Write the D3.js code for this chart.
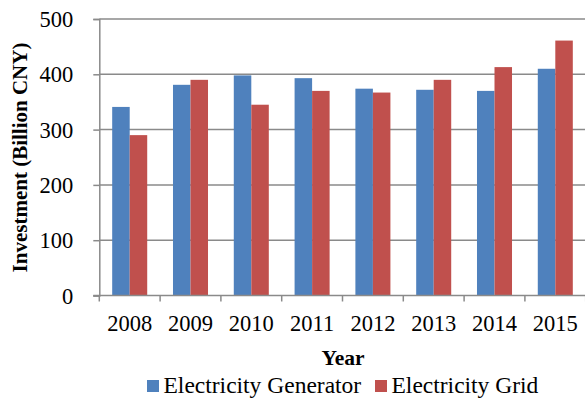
<!DOCTYPE html>
<html>
<head>
<meta charset="utf-8">
<script src="https://cdn.jsdelivr.net/npm/d3@7"></script>
<style>
  html, body { margin: 0; padding: 0; background: #fff; }
  svg { display: block; }
  svg text { font-family: "Liberation Serif", "Times New Roman", serif; fill: #000; }
</style>
</head>
<body>
<svg id="chart" width="585" height="399"></svg>
<script>
// Annual investment in China's power sector, billion CNY
const years = ["2008", "2009", "2010", "2011", "2012", "2013", "2014", "2015"];
const seriesNames = ["Electricity Generator", "Electricity Grid"];
const generator = [341, 381, 398, 393, 374, 372, 370, 410];
const grid = [290, 390, 345, 370, 367, 390, 413, 461];
const yTicks = [0, 100, 200, 300, 400, 500];
const colors = ["#4F81BD", "#C0504D"];

const svg = d3.select("#chart");
const plotLeft = 99.3, plotRight = 585.7, plotTop = 19, plotBottom = 295.5;

const pad = 0.424;
const x = d3.scaleBand().domain(years).range([plotLeft, plotRight])
  .paddingInner(pad).paddingOuter(pad / 2);
const x1 = d3.scaleBand().domain(seriesNames).range([0, x.bandwidth()]);
const y = d3.scaleLinear().domain([0, 500]).range([plotBottom, plotTop]);

const gridColor = "#8a8a8a";

// horizontal gridlines
svg.append("g").selectAll("line").data(yTicks.filter(d => d > 0)).join("line")
  .attr("x1", plotLeft).attr("x2", plotRight)
  .attr("y1", d => y(d)).attr("y2", d => y(d))
  .attr("stroke", gridColor).attr("stroke-width", 1.5);

// bars
const rows = years.map((yr, i) => ({ year: yr, values: [generator[i], grid[i]] }));
const groups = svg.append("g").selectAll("g").data(rows).join("g")
  .attr("transform", d => `translate(${x(d.year)},0)`);
groups.selectAll("rect")
  .data(d => d.values.map((v, j) => ({ name: seriesNames[j], value: v, j })))
  .join("rect")
  .attr("x", d => x1(d.name))
  .attr("width", x1.bandwidth())
  .attr("y", d => y(d.value))
  .attr("height", d => y(0) - y(d.value))
  .attr("fill", d => colors[d.j]);

// y axis
const yAxis = d3.axisLeft(y).tickValues(yTicks).tickSize(6).tickPadding(20);
const gy = svg.append("g").attr("transform", `translate(${plotLeft},0)`).call(yAxis);
gy.attr("font-family", null);
gy.select(".domain").attr("stroke", gridColor).attr("stroke-width", 1.5);
gy.selectAll(".tick line").attr("stroke", gridColor).attr("stroke-width", 1.5);
gy.selectAll(".tick text").attr("font-size", 22.5).attr("dy", "0.34em");

// x axis: baseline, boundary tick marks, centered labels
const gx = svg.append("g");
gx.append("line").attr("x1", plotLeft - 6).attr("x2", plotRight)
  .attr("y1", plotBottom).attr("y2", plotBottom)
  .attr("stroke", gridColor).attr("stroke-width", 1.5);
const bounds = d3.range(years.length + 1).map(i => plotLeft + i * x.step());
gx.selectAll("line.tk").data(bounds).join("line").attr("class", "tk")
  .attr("x1", d => d).attr("x2", d => d)
  .attr("y1", plotBottom).attr("y2", plotBottom + 6)
  .attr("stroke", gridColor).attr("stroke-width", 1.5);
gx.selectAll("text").data(years).join("text")
  .attr("x", d => x(d) + x.bandwidth() / 2)
  .attr("y", 331)
  .attr("text-anchor", "middle")
  .attr("font-size", 22.5)
  .text(d => d);

// axis titles
svg.append("text")
  .attr("transform", `translate(27,157.5) rotate(-90)`)
  .attr("text-anchor", "middle").attr("font-size", 21).attr("font-weight", "bold")
  .text("Investment (Billion CNY)");
svg.append("text")
  .attr("x", 343).attr("y", 365)
  .attr("text-anchor", "middle").attr("font-size", 21.5).attr("font-weight", "bold")
  .text("Year");

// legend
const legendItems = [
  { name: seriesNames[0], color: colors[0], x: 147 },
  { name: seriesNames[1], color: colors[1], x: 375 }
];
const lg = svg.append("g").selectAll("g").data(legendItems).join("g")
  .attr("transform", d => `translate(${d.x},380)`);
lg.append("rect").attr("width", 12).attr("height", 12).attr("fill", d => d.color);
lg.append("text").attr("x", 16.5).attr("y", 13).attr("font-size", 23.5).text(d => d.name);
</script>
</body>
</html>
